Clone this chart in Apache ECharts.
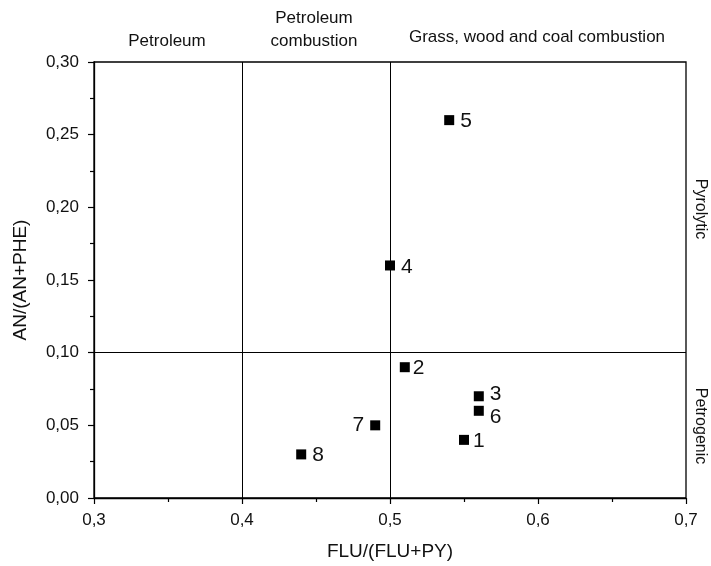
<!DOCTYPE html>
<html>
<head>
<meta charset="utf-8">
<script src="https://cdn.jsdelivr.net/npm/echarts@6/dist/echarts.min.js"></script>
<style>
  html, body { margin: 0; padding: 0; background: #fff; }
  #chart { width: 711px; height: 566px; }
</style>
</head>
<body>
<div id="chart"></div>
<script>
// Sample ratios: FLU/(FLU+PY) vs AN/(AN+PHE)
const sampleIds = ['1', '2', '3', '4', '5', '6', '7', '8'];
const fluRatio = [0.55, 0.51, 0.56, 0.50, 0.54, 0.56, 0.49, 0.44];
const anRatio  = [0.04, 0.09, 0.07, 0.16, 0.26, 0.06, 0.05, 0.03];
// Which side of the marker each sample number sits on
const labelSide = ['right', 'right', 'right', 'right', 'right', 'right', 'left', 'right'];
const labelShift = [[-2, 1], [-3, 1], [0, -2], [0, 2], [0, 1], [0, 6], [0, 0], [0, 1]];

// Source-diagnostic thresholds
const fluThresholds = [0.4, 0.5];
const anThreshold = 0.1;

const xTicks = { min: 0.3, max: 0.7, interval: 0.1 };
const yTicks = { min: 0.0, max: 0.3, interval: 0.05 };

const font = 'Liberation Sans, Arial, sans-serif';
const ink = '#111';
const chart = echarts.init(document.getElementById('chart'), null, { renderer: 'canvas' });

const points = sampleIds.map((id, i) => ({
  value: [fluRatio[i], anRatio[i]],
  label: {
    show: true,
    formatter: id,
    position: labelSide[i],
    distance: 6,
    offset: labelShift[i],
    color: ink,
    fontSize: 21,
    fontFamily: font
  }
}));

const comma = (digits) => (v) => v.toFixed(digits).replace('.', ',');

chart.setOption({
  backgroundColor: '#fff',
  animation: false,
  grid: {
    left: 94, right: 25, top: 62, bottom: 68,
    show: true, borderColor: '#000', borderWidth: 1.3, backgroundColor: 'transparent'
  },
  xAxis: {
    type: 'value',
    min: xTicks.min, max: xTicks.max, interval: xTicks.interval,
    name: 'FLU/(FLU+PY)',
    nameLocation: 'middle', nameGap: 44,
    nameTextStyle: { fontSize: 19, color: ink, fontFamily: font },
    axisLine: { show: true, onZero: false, lineStyle: { color: '#000', width: 1.3 } },
    axisTick: { show: true, inside: false, length: 6, lineStyle: { color: '#000', width: 1.2 } },
    minorTick: { show: true, splitNumber: 2, length: 4, lineStyle: { color: '#000', width: 1.2 } },
    axisLabel: { formatter: comma(1), fontSize: 17, color: ink, fontFamily: font, margin: 14 },
    splitLine: { show: false }
  },
  yAxis: {
    type: 'value',
    min: yTicks.min, max: yTicks.max, interval: yTicks.interval,
    name: 'AN/(AN+PHE)',
    nameLocation: 'middle', nameGap: 64,
    nameTextStyle: { fontSize: 19, color: ink, fontFamily: font },
    axisLine: { show: true, onZero: false, lineStyle: { color: '#000', width: 1.3 } },
    axisTick: { show: true, inside: false, length: 6, lineStyle: { color: '#000', width: 1.2 } },
    minorTick: { show: true, splitNumber: 2, length: 4, lineStyle: { color: '#000', width: 1.2 } },
    axisLabel: { formatter: comma(2), fontSize: 17, color: ink, fontFamily: font, margin: 15 },
    splitLine: { show: false }
  },
  series: [{
    type: 'scatter',
    symbol: 'rect',
    symbolSize: 10,
    itemStyle: { color: '#000', opacity: 1 },
    data: points,
    z: 5,
    markLine: {
      silent: true,
      symbol: 'none',
      label: { show: false },
      lineStyle: { color: '#000', width: 1, type: 'solid', opacity: 1 },
      data: [
        ...fluThresholds.map(v => ({ xAxis: v })),
        { yAxis: anThreshold }
      ]
    }
  }],
  graphic: [
    { type: 'text', x: 167, y: 41, style: { text: 'Petroleum', fontSize: 17, fontFamily: font, fill: ink, align: 'center', verticalAlign: 'middle' } },
    { type: 'text', x: 314, y: 30, style: { text: 'Petroleum\ncombustion', fontSize: 17, lineHeight: 23, fontFamily: font, fill: ink, align: 'center', verticalAlign: 'middle' } },
    { type: 'text', x: 537, y: 37, style: { text: 'Grass, wood and coal combustion', fontSize: 17, fontFamily: font, fill: ink, align: 'center', verticalAlign: 'middle' } },
    { type: 'text', x: 700, y: 209, rotation: -Math.PI / 2, style: { text: 'Pyrolytic', fontSize: 16, fontFamily: font, fill: ink, align: 'center', verticalAlign: 'middle' } },
    { type: 'text', x: 700, y: 426, rotation: -Math.PI / 2, style: { text: 'Petrogenic', fontSize: 16, fontFamily: font, fill: ink, align: 'center', verticalAlign: 'middle' } }
  ]
});
</script>
</body>
</html>
